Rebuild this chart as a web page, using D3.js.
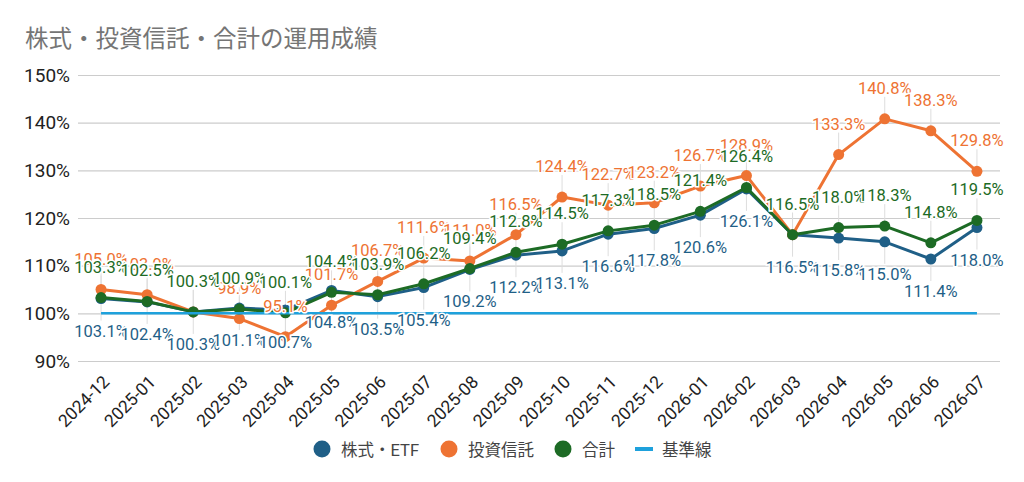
<!DOCTYPE html>
<html><head><meta charset="utf-8">
<script src="https://cdn.jsdelivr.net/npm/d3@7"></script>
<style>
body{margin:0;background:#fff;}
text{font-family:Roboto,"Noto Sans CJK JP",sans-serif;}
</style></head>
<body><svg id="c" width="1024" height="482"></svg>
<script>
const categories = ["2024-12","2025-01","2025-02","2025-03","2025-04","2025-05","2025-06","2025-07","2025-08","2025-09","2025-10","2025-11","2025-12","2026-01","2026-02","2026-03","2026-04","2026-05","2026-06","2026-07"];
const stockValues = [103.1,102.4,100.3,101.1,100.7,104.8,103.5,105.4,109.2,112.2,113.1,116.6,117.8,120.6,126.1,116.5,115.8,115.0,111.4,118.0];
const fundValues  = [105.0,103.9,100.3,98.9,95.1,101.7,106.7,111.6,111.0,116.5,124.4,122.7,123.2,126.7,128.9,116.5,133.3,140.8,138.3,129.8];
const totalValues = [103.3,102.5,100.3,100.9,100.1,104.4,103.9,106.2,109.4,112.8,114.5,117.3,118.5,121.4,126.4,116.5,118.0,118.3,114.8,119.5];
const baseValues  = categories.map(() => 100);
const yTicks = [90,100,110,120,130,140,150];
const seriesNames = ["株式・ETF","投資信託","合計","基準線"];
const colors = ["#1f5f87","#ee7333","#1d6b25","#1ea1dc"];

const svg = d3.select("#c");
const m = {l:78, r:1000, t:75, b:361};
const x = d3.scalePoint().domain(categories).range([m.l, m.r]).padding(0.5);
const y = d3.scaleLinear().domain([90,150]).range([m.b, m.t]);

// title
svg.append("text").attr("x",25).attr("y",47).attr("font-size",23.5).attr("fill","#757575")
  .style("font-family","'Noto Sans CJK JP',sans-serif").text("株式・投資信託・合計の運用成績");

// gridlines
const yAxis = d3.axisLeft(y).tickValues(yTicks).tickFormat(d=>d+"%").tickSize(-(m.r-m.l)).tickPadding(8);
const gy = svg.append("g").attr("transform",`translate(${m.l},0)`).call(yAxis);
gy.select(".domain").remove();
gy.selectAll(".tick line").attr("stroke","#cccccc").attr("stroke-width",1.2);
gy.selectAll(".tick text").attr("font-size",19).attr("fill","#222").attr("x",-8);

// x axis labels
const xAxis = d3.axisBottom(x).tickSize(0).tickPadding(0);
const gx = svg.append("g").attr("transform",`translate(0,${m.b})`).call(xAxis);
gx.select(".domain").remove();
gx.selectAll(".tick text").attr("font-size",17.5).attr("fill","#222")
  .attr("text-anchor","end").attr("dy",0).attr("y",0)
  .attr("transform","translate(9,22) rotate(-45)");

const series = [
  {vals:stockValues, color:colors[0], pos:"below"},
  {vals:fundValues, color:colors[1], pos:"above"},
  {vals:totalValues, color:colors[2], pos:"above"}
];

// stems
const stemG = svg.append("g");
series.forEach(s=>{
  s.vals.forEach((v,i)=>{
    const py = y(v);
    const y2 = s.pos==="above" ? py-22 : py+22;
    stemG.append("line").attr("x1",x(categories[i])).attr("x2",x(categories[i]))
      .attr("y1",py).attr("y2",y2).attr("stroke","#dddddd").attr("stroke-width",1);
  });
});

const line = d3.line().x((d,i)=>x(categories[i])).y(d=>y(d));
series.forEach(s=>{
  svg.append("path").datum(s.vals).attr("d",line).attr("fill","none")
    .attr("stroke",s.color).attr("stroke-width",3).attr("stroke-linejoin","round");
  svg.append("g").selectAll("circle").data(s.vals).join("circle")
    .attr("cx",(d,i)=>x(categories[i])).attr("cy",d=>y(d)).attr("r",5.5).attr("fill",s.color);
});

// baseline
svg.append("path").datum(baseValues).attr("d",line).attr("fill","none")
  .attr("stroke",colors[3]).attr("stroke-width",2.5);

// labels
series.forEach(s=>{
  svg.append("g").selectAll("text").data(s.vals).join("text")
    .attr("x",(d,i)=>x(categories[i])).attr("y",d=> s.pos==="above" ? y(d)-25 : y(d)+38)
    .attr("text-anchor","middle").attr("font-size",16.5).attr("fill",s.color)
    .attr("stroke","#fff").attr("stroke-width",3).attr("paint-order","stroke")
    .text(d=>d.toFixed(1)+"%");
});

// legend
const legend = [
  {name:seriesNames[0], color:colors[0], cx:322, tx:341, type:"c"},
  {name:seriesNames[1], color:colors[1], cx:449, tx:468, type:"c"},
  {name:seriesNames[2], color:colors[2], cx:563, tx:582, type:"c"},
  {name:seriesNames[3], color:colors[3], cx:644, tx:662, type:"l"}
];
const lg = svg.append("g");
legend.forEach(l=>{
  if(l.type==="c") lg.append("circle").attr("cx",l.cx).attr("cy",449).attr("r",8.5).attr("fill",l.color);
  else lg.append("rect").attr("x",l.cx-9).attr("y",447).attr("width",18).attr("height",4).attr("fill",l.color);
  lg.append("text").attr("x",l.tx).attr("y",455.5).attr("font-size",16.5).attr("fill","#444")
    .style("font-family","Roboto,'Noto Sans CJK JP',sans-serif").text(l.name);
});
</script></body></html>
